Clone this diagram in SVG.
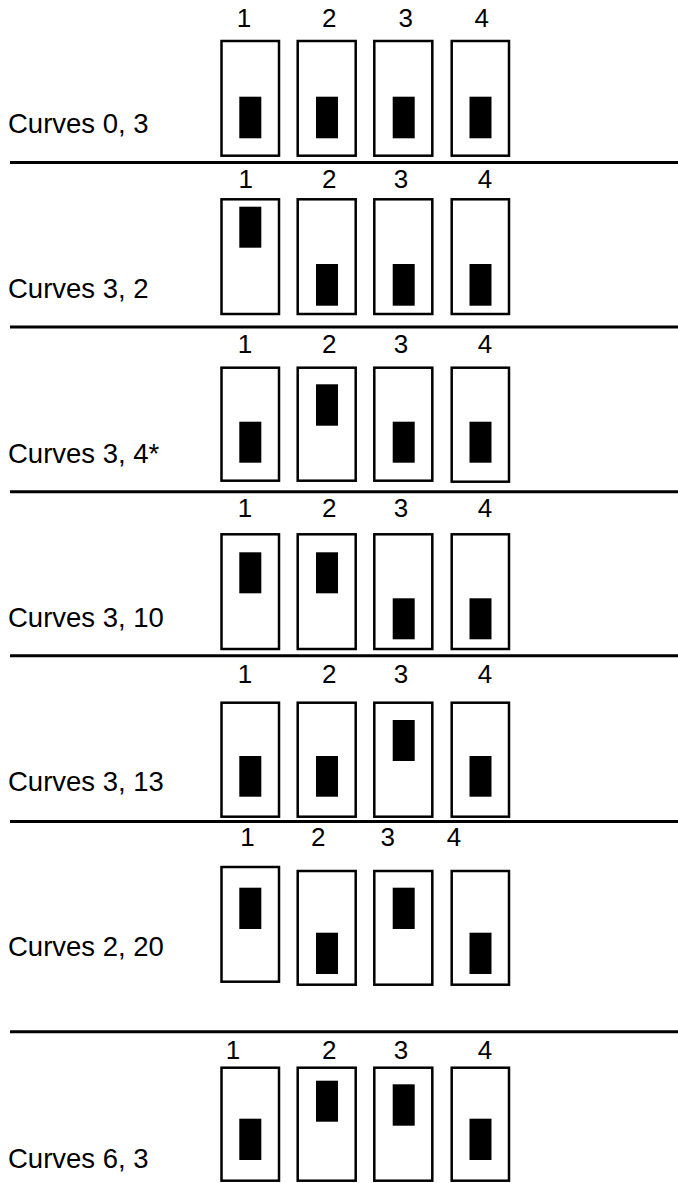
<svg xmlns="http://www.w3.org/2000/svg" width="678" height="1183" viewBox="0 0 678 1183">
<style>
.box{fill:#fff;stroke:#000;stroke-width:2.5}
.sw{fill:#000}
.sep{stroke:#000;stroke-width:3}
.num{font-family:"Liberation Sans",Arial,sans-serif;font-size:26px;fill:#000;text-anchor:middle}
.lbl{font-family:"Liberation Sans",Arial,sans-serif;font-size:27.5px;fill:#000}
</style>
<rect width="678" height="1183" fill="#fff"/>
<g id="separators">
<line class="sep" x1="10" y1="162.5" x2="678" y2="162.5"/>
<line class="sep" x1="10" y1="327" x2="678" y2="327"/>
<line class="sep" x1="10" y1="491.7" x2="678" y2="491.7"/>
<line class="sep" x1="10" y1="655.7" x2="678" y2="655.7"/>
<line class="sep" x1="10" y1="821.5" x2="678" y2="821.5"/>
<line class="sep" x1="10" y1="1031.7" x2="678" y2="1031.7"/>
</g>
<g id="row1">
<text class="lbl" x="8" y="133.3">Curves 0, 3</text>
<text class="num" x="244" y="27.3">1</text><text class="num" x="329.3" y="27.3">2</text><text class="num" x="405.7" y="27.3">3</text><text class="num" x="481.7" y="27.3">4</text>
<rect class="box" x="221.5" y="41" width="57.5" height="114.7"/><rect class="box" x="297.7" y="41" width="58" height="114.7"/><rect class="box" x="374.3" y="41" width="58" height="114.7"/><rect class="box" x="451.7" y="41" width="57.3" height="114.7"/>
<rect class="sw" x="239.3" y="96.7" width="22" height="41.6"/><rect class="sw" x="316" y="96.7" width="22" height="41.6"/><rect class="sw" x="392.7" y="96.7" width="22" height="41.6"/><rect class="sw" x="469.5" y="96.7" width="22" height="41.6"/>
</g>
<g id="row2">
<text class="lbl" x="8" y="298">Curves 3, 2</text>
<text class="num" x="245.8" y="188.3">1</text><text class="num" x="329.3" y="188.3">2</text><text class="num" x="401" y="188.3">3</text><text class="num" x="485" y="188.3">4</text>
<rect class="box" x="221.5" y="199.3" width="57.5" height="114.7"/><rect class="box" x="297.7" y="199.3" width="58" height="114.7"/><rect class="box" x="374.3" y="199.3" width="58" height="114.7"/><rect class="box" x="451.7" y="199.3" width="57.3" height="114.7"/>
<rect class="sw" x="239.3" y="206.7" width="22" height="41"/><rect class="sw" x="316" y="264" width="22" height="41.7"/><rect class="sw" x="392.7" y="264" width="22" height="41.7"/><rect class="sw" x="469.5" y="264" width="22" height="41.7"/>
</g>
<g id="row3">
<text class="lbl" x="8" y="463">Curves 3, 4*</text>
<text class="num" x="245" y="353.3">1</text><text class="num" x="329.3" y="353.3">2</text><text class="num" x="401" y="353.3">3</text><text class="num" x="485" y="353.3">4</text>
<rect class="box" x="221.5" y="367.7" width="57.5" height="113"/><rect class="box" x="297.7" y="367.7" width="58" height="113"/><rect class="box" x="374.3" y="367.7" width="58" height="113"/><rect class="box" x="451.7" y="367.7" width="57.3" height="114"/>
<rect class="sw" x="239.3" y="421.7" width="22" height="41"/><rect class="sw" x="316" y="384.3" width="22" height="41.4"/><rect class="sw" x="392.7" y="421.7" width="22" height="41"/><rect class="sw" x="469.5" y="421.7" width="22" height="41"/>
</g>
<g id="row4">
<text class="lbl" x="8" y="627">Curves 3, 10</text>
<text class="num" x="245" y="516.7">1</text><text class="num" x="329.3" y="516.7">2</text><text class="num" x="401" y="516.7">3</text><text class="num" x="485" y="516.7">4</text>
<rect class="box" x="221.5" y="534.3" width="57.5" height="114.7"/><rect class="box" x="297.7" y="534.3" width="58" height="114.7"/><rect class="box" x="374.3" y="534.3" width="58" height="114.7"/><rect class="box" x="451.7" y="534.3" width="57.3" height="114.7"/>
<rect class="sw" x="239.3" y="552.3" width="22" height="41"/><rect class="sw" x="316" y="552.3" width="22" height="41"/><rect class="sw" x="392.7" y="598.3" width="22" height="41"/><rect class="sw" x="469.5" y="598.3" width="22" height="41"/>
</g>
<g id="row5">
<text class="lbl" x="8" y="791">Curves 3, 13</text>
<text class="num" x="245" y="682.7">1</text><text class="num" x="329.3" y="682.7">2</text><text class="num" x="401" y="682.7">3</text><text class="num" x="485" y="682.7">4</text>
<rect class="box" x="221.5" y="702.7" width="57.5" height="114"/><rect class="box" x="297.7" y="702.7" width="58" height="114"/><rect class="box" x="374.3" y="702.7" width="58" height="114"/><rect class="box" x="451.7" y="702.7" width="57.3" height="114"/>
<rect class="sw" x="239.3" y="756" width="22" height="40.7"/><rect class="sw" x="316" y="756" width="22" height="40.7"/><rect class="sw" x="392.7" y="720" width="22" height="41"/><rect class="sw" x="469.5" y="756" width="22" height="40.7"/>
</g>
<g id="row6">
<text class="lbl" x="8" y="956">Curves 2, 20</text>
<text class="num" x="247.5" y="846">1</text><text class="num" x="318.3" y="846">2</text><text class="num" x="387.7" y="846">3</text><text class="num" x="454" y="846">4</text>
<rect class="box" x="221.5" y="867" width="57.5" height="114.7"/><rect class="box" x="297.7" y="871" width="58" height="113.7"/><rect class="box" x="374.3" y="871" width="58" height="113.7"/><rect class="box" x="451.7" y="871" width="57.3" height="113.7"/>
<rect class="sw" x="239.3" y="887.7" width="22" height="41.3"/><rect class="sw" x="316" y="932.7" width="22" height="41.3"/><rect class="sw" x="392.7" y="887.7" width="22" height="41.3"/><rect class="sw" x="469.5" y="932.7" width="22" height="41.3"/>
</g>
<g id="row7">
<text class="lbl" x="8" y="1167.7">Curves 6, 3</text>
<text class="num" x="233" y="1059.3">1</text><text class="num" x="329.3" y="1059.3">2</text><text class="num" x="401" y="1059.3">3</text><text class="num" x="485" y="1059.3">4</text>
<rect class="box" x="221.5" y="1067.7" width="57.5" height="113"/><rect class="box" x="297.7" y="1067.7" width="58" height="113"/><rect class="box" x="374.3" y="1067.7" width="58" height="113"/><rect class="box" x="451.7" y="1067.7" width="57.3" height="113"/>
<rect class="sw" x="239.3" y="1118.7" width="22" height="41.3"/><rect class="sw" x="316" y="1080.7" width="22" height="41"/><rect class="sw" x="392.7" y="1084.3" width="22" height="41.4"/><rect class="sw" x="469.5" y="1118.7" width="22" height="41.3"/>
</g>
</svg>
